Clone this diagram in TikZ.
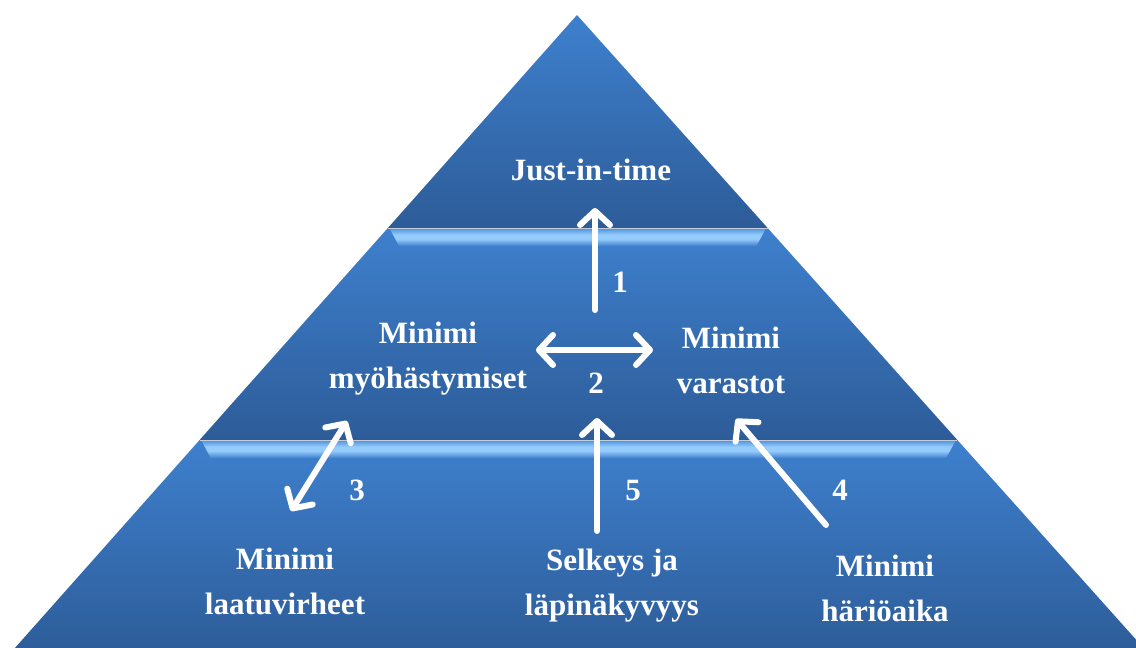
\documentclass[tikz,border=0pt]{standalone}
\usepackage{fontspec}
\setmainfont{Liberation Serif}
\usetikzlibrary{arrows.meta}
\definecolor{tierlight}{HTML}{3E80CE}
\definecolor{tierdark}{HTML}{2D5C98}
\definecolor{glowlight}{HTML}{96CCFC}
\definecolor{glowedge}{HTML}{5698E2}
\definecolor{rimgrey}{HTML}{C4CCD6}
% vertical profile of the bright lip (0bp = bottom, 100bp = top)
\pgfdeclareverticalshading{lip}{100bp}{color(0bp)=(tierlight); color(25bp)=(tierlight); color(46bp)=(glowlight); color(58bp)=(glowlight); color(75bp)=(glowedge); color(100bp)=(glowedge)}
\tikzset{
  tier/.style={top color=tierlight, bottom color=tierdark, draw=none},
  glow/.style={shading=lip, draw=none},
  rim/.style={draw=rimgrey, line width=1.2pt},
  label/.style={text=white, font=\bfseries\fontsize{31}{45}\selectfont, align=center, inner sep=0pt},
  num/.style={text=white, font=\bfseries\fontsize{31}{37}\selectfont, inner sep=0pt},
  barb/.tip={Straight Barb[round,length=14pt,width=30pt]},
  flow/.style={draw=white, line width=6pt, line cap=round, line join=round, -barb},
  twoway/.style={flow, barb-barb}
}
% left and right slopes of the pyramid sides
\pgfmathsetmacro{\sl}{0.888}
\pgfmathsetmacro{\sr}{0.895}
\begin{document}
\begin{tikzpicture}[x=1pt,y=-1pt]
\useasboundingbox (0,0) rectangle (1136,648);
\clip (0,0) rectangle (1136,648);

% three tiers
\path[tier] (577,15) -- ({577-\sl*213},228) -- ({577+\sr*213},228) -- cycle;
\path[tier] ({577-\sl*213},228) -- ({577+\sr*213},228) -- ({577+\sr*425},440) -- ({577-\sl*425},440) -- cycle;
\path[tier] ({577-\sl*425},440) -- ({577+\sr*425},440) -- ({577+\sr*640},655) -- ({577-\sl*640},655) -- cycle;

% glowing lips along the top of the lower tiers
\path[glow] ({577-\sl*214+3},229) -- ({577+\sr*214-3},229) -- ({577+\sr*214-12},246) -- ({577-\sl*214+12},246) -- cycle;
\path[glow] ({577-\sl*426+3},441) -- ({577+\sr*426-3},441) -- ({577+\sr*426-12},458) -- ({577-\sl*426+12},458) -- cycle;
\draw[rim] ({577-\sl*213},228.5) -- ({577+\sr*213},228.5);
\draw[rim] ({577-\sl*425},440.5) -- ({577+\sr*425},440.5);

% labels
\node[label] (jit) at (591,170) {Just-in-time};
\node[label] (myoh) at (428,359) {Minimi\\myöhästymiset};
\node[label] (var) at (731,360) {Minimi\\varastot};
\node[label] (laatu) at (285,581) {Minimi\\laatuvirheet};
\node[label] (selk) at (612,586) {Selkeys ja\\läpinäkyvyys};
\node[label] (hari) at (885,588) {Minimi\\häriöaika};

\node[num] (n1) at (620,282) {1};
\node[num] (n2) at (596,383) {2};
\node[num] (n3) at (357,490) {3};
\node[num] (n5) at (633,490) {5};
\node[num] (n4) at (840,490) {4};

% arrow end points
\coordinate (a1s) at (595,310);
\coordinate (a1e) at (595,208);
\coordinate (a2s) at (536,350);
\coordinate (a2e) at (653,350);
\coordinate (a3s) at (291,511);
\coordinate (a3e) at (347,421);
\coordinate (a5s) at (597,531);
\coordinate (a5e) at (597,418);
\coordinate (a4s) at (826,525);
\coordinate (a4e) at (736,419);

\draw[flow] (a1s) -- (a1e);
\draw[twoway] (a2s) -- (a2e);
\draw[twoway] (a3s) -- (a3e);
\draw[flow] (a5s) -- (a5e);
\draw[flow] (a4s) -- (a4e);
\end{tikzpicture}
\end{document}
